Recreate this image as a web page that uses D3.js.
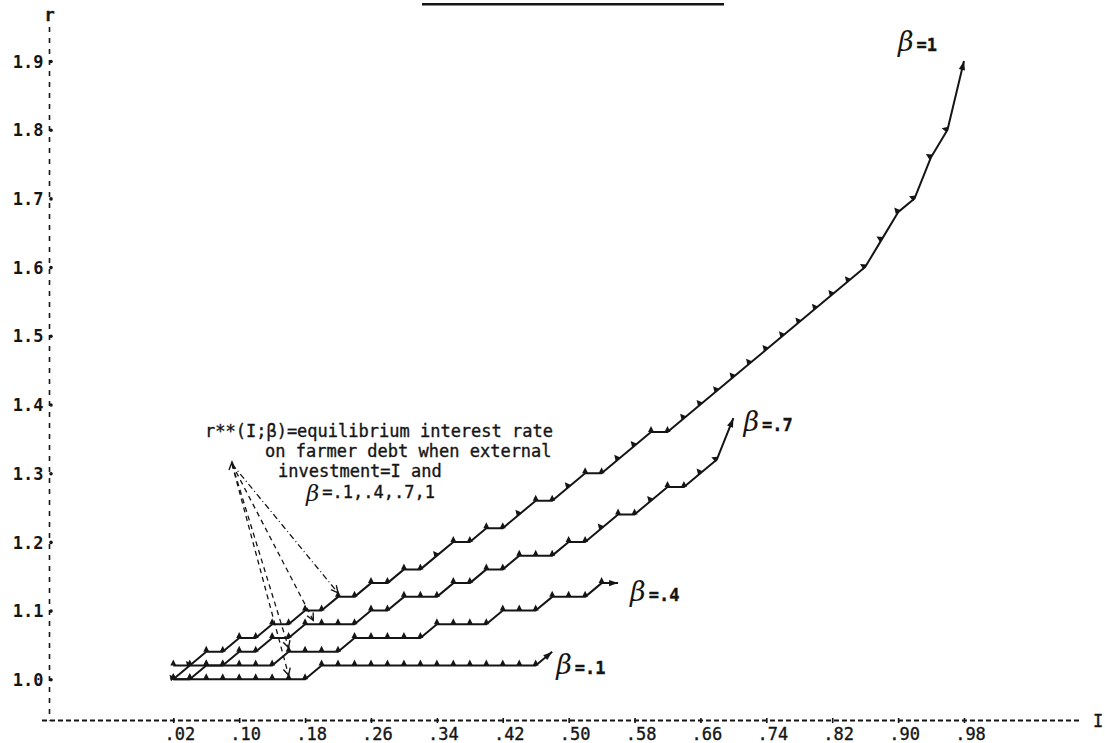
<!DOCTYPE html>
<html>
<head>
<meta charset="utf-8">
<script src="https://cdn.jsdelivr.net/npm/d3@7"></script>
<style>
  body { margin: 0; background: #fff; }
  svg { display: block; }
  .tw { font-family: "DejaVu Sans Mono", "Liberation Mono", monospace; font-size: 17px; fill: #151515;
        stroke: #151515; stroke-width: 0.35px; }
  .beta { font-family: "DejaVu Serif", serif; font-style: italic; font-size: 27px; fill: #151515; }
</style>
</head>
<body>
<svg id="chart" width="1105" height="743"></svg>
<script>
// External investment I (horizontal axis), one entry per computed point
const investment = [0.02, 0.04, 0.06, 0.08, 0.10, 0.12, 0.14, 0.16, 0.18, 0.20,
                    0.22, 0.24, 0.26, 0.28, 0.30, 0.32, 0.34, 0.36, 0.38, 0.40,
                    0.42, 0.44, 0.46, 0.48, 0.50, 0.52, 0.54, 0.56, 0.58, 0.60,
                    0.62, 0.64, 0.66, 0.68, 0.70, 0.72, 0.74, 0.76, 0.78, 0.80,
                    0.82, 0.84, 0.86, 0.88, 0.90, 0.92, 0.94, 0.96, 0.98];

// Equilibrium interest rate r** for each beta, starting at I = .02
const rBeta1 = [1.00, 1.02, 1.04, 1.04, 1.06, 1.06, 1.08, 1.08, 1.10, 1.10,
                1.12, 1.12, 1.14, 1.14, 1.16, 1.16, 1.18, 1.20, 1.20, 1.22,
                1.22, 1.24, 1.26, 1.26, 1.28, 1.30, 1.30, 1.32, 1.34, 1.36,
                1.36, 1.38, 1.40, 1.42, 1.44, 1.46, 1.48, 1.50, 1.52, 1.54,
                1.56, 1.58, 1.60, 1.64, 1.68, 1.70, 1.76, 1.80, 1.90];
const rBeta07 = [1.00, 1.00, 1.02, 1.02, 1.04, 1.04, 1.06, 1.06, 1.08, 1.08,
                 1.08, 1.08, 1.10, 1.10, 1.12, 1.12, 1.12, 1.14, 1.14, 1.16,
                 1.16, 1.18, 1.18, 1.18, 1.20, 1.20, 1.22, 1.24, 1.24, 1.26,
                 1.28, 1.28, 1.30, 1.32, 1.38];
const rBeta04 = [1.02, 1.02, 1.02, 1.02, 1.02, 1.02, 1.02, 1.04, 1.04, 1.04,
                 1.04, 1.06, 1.06, 1.06, 1.06, 1.06, 1.08, 1.08, 1.08, 1.08,
                 1.10, 1.10, 1.10, 1.12, 1.12, 1.12, 1.14, 1.14];
const rBeta01 = [1.00, 1.00, 1.00, 1.00, 1.00, 1.00, 1.00, 1.00, 1.00, 1.02,
                 1.02, 1.02, 1.02, 1.02, 1.02, 1.02, 1.02, 1.02, 1.02, 1.02,
                 1.02, 1.02, 1.02, 1.04];

const seriesValues = [rBeta1, rBeta07, rBeta04, rBeta01];
const seriesLabels = ["=1", "=.7", "=.4", "=.1"];

const xTickValues = [0.02, 0.10, 0.18, 0.26, 0.34, 0.42, 0.50, 0.58, 0.66, 0.74, 0.82, 0.90, 0.98];
const xTickLabels = [".02", ".10", ".18", ".26", ".34", ".42", ".50", ".58", ".66", ".74", ".82", ".90", ".98"];
const yTickValues = [1.0, 1.1, 1.2, 1.3, 1.4, 1.5, 1.6, 1.7, 1.8, 1.9];
const yTickLabels = ["1.0", "1.1", "1.2", "1.3", "1.4", "1.5", "1.6", "1.7", "1.8", "1.9"];

const noteLines = ["r**(I;β)=equilibrium interest rate",
                   "on farmer debt when external",
                   "investment=I and"];
const noteBetaList = "=.1,.4,.7,1";

const svg = d3.select("#chart");
const ink = "#151515";

const x = d3.scaleLinear().domain([0.02, 0.98]).range([173.3, 964]);
const y = d3.scaleLinear().domain([1.0, 1.9]).range([679.3, 61]);

const axisY = 720.5;   // baseline of the I axis
const axisX = 49.5;    // position of the r axis

// ---- typewriter-style axes -------------------------------------------
const g = svg.append("g");

// horizontal I axis: dashed rule with small crosses at the labelled ticks
g.append("line")
  .attr("x1", 42).attr("x2", 1082).attr("y1", axisY).attr("y2", axisY)
  .attr("stroke", ink).attr("stroke-width", 1.8).attr("stroke-dasharray", "5,3");

const xAxis = d3.axisBottom(x)
  .tickValues(xTickValues)
  .tickFormat((d, i) => xTickLabels[i])
  .tickSize(0).tickPadding(0);
const gx = g.append("g").attr("transform", `translate(0,${axisY})`).call(xAxis);
gx.select(".domain").remove();
gx.selectAll("text").attr("dy", null).attr("y", 19).attr("dx", 6)
  .attr("fill", ink).attr("stroke", ink).attr("stroke-width", 0.35)
  .style("font-size", "17px").style("font-family", '"DejaVu Sans Mono", monospace');
gx.selectAll(".tick").append("line")
  .attr("x1", 0).attr("x2", 0).attr("y1", -2.5).attr("y2", 2.5)
  .attr("stroke", ink).attr("stroke-width", 1.6);

g.append("text").attr("class", "tw").attr("x", 1093).attr("y", axisY + 6).text("I");

// vertical r axis
g.append("line")
  .attr("x1", axisX).attr("x2", axisX).attr("y1", 27).attr("y2", axisY)
  .attr("stroke", ink).attr("stroke-width", 1.6).attr("stroke-dasharray", "5,6");

const yAxis = d3.axisLeft(y)
  .tickValues(yTickValues)
  .tickFormat((d, i) => yTickLabels[i])
  .tickSize(0).tickPadding(0);
const gy = g.append("g").attr("transform", `translate(${axisX},0)`).call(yAxis);
gy.select(".domain").remove();
gy.selectAll("text").attr("x", -6).attr("dy", "0.36em")
  .style("font-size", "17px").style("font-family", '"DejaVu Sans Mono", monospace')
  .style("font-weight", "bold").attr("fill", ink);
gy.selectAll(".tick").append("circle").attr("cx", 1.5).attr("r", 1.8).attr("fill", ink);

g.append("text").attr("class", "tw").attr("x", axisX).attr("y", 21)
  .attr("text-anchor", "middle").style("font-weight", "bold").text("r");

// fragment of the page heading rule
g.append("rect").attr("x", 422).attr("y", 3).attr("width", 302).attr("height", 2.5).attr("fill", ink);

// ---- the four r** curves ----------------------------------------------
const line = d3.line().x(d => x(d.i)).y(d => y(d.r));

seriesValues.forEach((vals, k) => {
  const pts = vals.map((r, j) => ({ i: investment[j], r }));
  const s = svg.append("g");
  s.append("path").datum(pts)
    .attr("d", line).attr("fill", "none")
    .attr("stroke", ink).attr("stroke-width", 2).attr("stroke-linejoin", "round");

  pts.forEach((p, j) => {
    const px = x(p.i), py = y(p.r);
    const last = j === pts.length - 1;
    const prev = pts[Math.max(j - 1, 0)], next = pts[Math.min(j + 1, pts.length - 1)];
    let path;
    if (last) {
      // arrow head at the end of the curve, along the final segment
      const a = Math.atan2(py - y(prev.r), px - x(prev.i));
      const L = 9, W = 3.2;
      const bx = px - L * Math.cos(a), by = py - L * Math.sin(a);
      path = `M${px},${py}L${bx + W * Math.sin(a)},${by - W * Math.cos(a)}L${bx - W * Math.sin(a)},${by + W * Math.cos(a)}Z`;
    } else {
      const flatIn = j > 0 && prev.r === p.r;
      const flatOut = next.r === p.r;
      let nx = 0, ny = -1;
      if (!flatIn && !flatOut) {
        const a = Math.atan2(y(next.r) - py, x(next.i) - px);
        nx = Math.sin(a); ny = -Math.cos(a);
      }
      const H = 6, W = 3;
      const tx = -ny, ty = nx; // tangent
      path = `M${px + nx * H},${py + ny * H}L${px + tx * W},${py + ty * W}L${px - tx * W},${py - ty * W}Z`;
    }
    s.append("path").attr("d", path).attr("fill", ink);
  });

  // series label: script beta plus typed value
  const end = pts[pts.length - 1];
  const offsets = [[-66, -10], [10, 13], [12, 18], [4, 22]];
  const lx = x(end.i) + offsets[k][0], ly = y(end.r) + offsets[k][1];
  const t = svg.append("text").attr("x", lx).attr("y", ly);
  t.append("tspan").attr("class", "beta").text("β");
  t.append("tspan").attr("class", "tw").attr("dx", 3).style("font-weight", "bold").text(seriesLabels[k]);
});

// ---- explanatory note with dashed leaders ------------------------------
const note = svg.append("g");
const noteX = [205, 265, 278];
noteLines.forEach((s, k) => {
  note.append("text").attr("class", "tw").attr("x", noteX[k]).attr("y", 437 + k * 20).text(s);
});
const nb = note.append("text").attr("x", 306).attr("y", 498);
nb.append("tspan").attr("class", "beta").style("font-size", "23px").attr("dy", 3).text("β");
nb.append("tspan").attr("class", "tw").attr("dx", 3).attr("dy", -3).text(noteBetaList);

const apex = [232, 464];
const leaderTargets = [
  { i: 0.16, r: rBeta01[7], dash: "5,4" },
  { i: 0.16, r: rBeta04[7], dash: "5,4" },
  { i: 0.19, r: rBeta07[8], dash: "5,4" },
  { i: 0.22, r: rBeta1[10], dash: "6,3,1,3" }
];
leaderTargets.forEach(t => {
  const tx = x(t.i), ty = y(t.r) - 4;
  note.append("line").attr("x1", apex[0]).attr("y1", apex[1]).attr("x2", tx).attr("y2", ty)
    .attr("stroke", ink).attr("stroke-width", 1.3).attr("stroke-dasharray", t.dash);
  const a = Math.atan2(ty - apex[1], tx - apex[0]);
  const L = 7, W = 3.5;
  note.append("path")
    .attr("d", `M${tx - L * Math.cos(a) + W * Math.sin(a)},${ty - L * Math.sin(a) - W * Math.cos(a)}L${tx},${ty}L${tx - L * Math.cos(a) - W * Math.sin(a)},${ty - L * Math.sin(a) + W * Math.cos(a)}`)
    .attr("fill", "none").attr("stroke", ink).attr("stroke-width", 1.4);
});
note.append("path").attr("d", `M${apex[0] - 3},${apex[1] + 6}L${apex[0]},${apex[1] - 2}L${apex[0] + 3},${apex[1] + 5}`)
  .attr("fill", "none").attr("stroke", ink).attr("stroke-width", 1.4);
</script>
</body>
</html>
